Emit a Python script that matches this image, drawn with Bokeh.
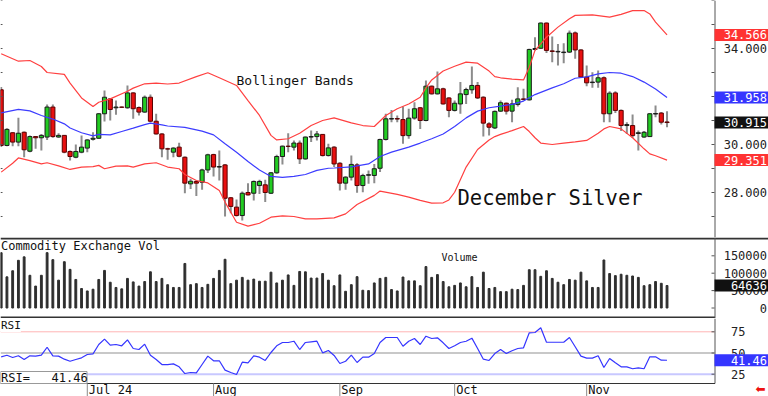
from bokeh.plotting import figure
from bokeh.layouts import column
from bokeh.models import Range1d, Label, ColumnDataSource
from bokeh.embed import file_html
from bokeh.resources import INLINE
from bokeh.core.properties import value

# ---------------- data ----------------
opens = [32.28, 29.96, 30.49, 30.10, 30.51, 29.72, 30.33, 30.28, 30.31, 31.56,
         30.31, 30.38, 29.71, 29.47, 29.68, 29.85, 30.22, 30.26, 31.28, 31.90,
         31.53, 31.56, 31.53, 32.15, 31.54, 31.35, 31.97, 30.97, 30.44, 29.82,
         29.68, 29.89, 29.47, 28.36, 28.46, 28.43, 28.94, 29.58, 29.06, 29.15,
         27.78, 27.39, 27.04, 28.00, 27.97, 28.29, 28.32, 27.97, 28.82, 29.50,
         29.93, 29.89, 30.06, 29.40, 30.31, 30.33, 30.42, 29.54, 29.89, 29.22,
         28.39, 28.64, 29.15, 28.29, 28.72, 28.71, 29.01, 30.21, 31.06, 31.08,
         31.04, 30.37, 31.10, 31.53, 31.00, 32.43, 32.11, 32.32, 31.94, 31.42,
         31.69, 32.08, 32.28, 32.46, 31.97, 30.86, 30.69, 31.39, 31.72, 31.39,
         31.67, 31.90, 31.86, 33.96, 34.01, 35.06, 33.90, 33.86, 33.83, 33.85,
         34.65, 33.94, 32.81, 32.58, 32.60, 32.78, 31.28, 32.15, 31.42, 30.79,
         30.79, 30.46, 30.31, 30.33, 31.27, 31.31, 30.94]
highs = [32.40, 30.68, 30.51, 31.11, 30.54, 30.37, 30.35, 30.44, 31.67, 31.67,
         30.47, 30.40, 29.75, 30.00, 30.37, 30.22, 30.51, 31.31, 32.25, 31.94,
         31.83, 31.58, 32.46, 32.18, 31.58, 32.04, 32.08, 31.28, 30.47, 29.86,
         29.89, 30.07, 29.50, 28.57, 28.50, 28.99, 29.61, 29.61, 29.75, 29.19,
         27.81, 27.71, 28.04, 28.39, 28.50, 28.53, 28.53, 28.85, 29.57, 29.96,
         30.47, 30.17, 30.17, 30.33, 30.58, 30.56, 30.44, 30.03, 29.93, 29.26,
         28.68, 29.54, 29.22, 28.78, 28.92, 29.19, 30.24, 31.28, 31.44, 31.21,
         31.58, 31.49, 31.76, 31.56, 32.67, 32.46, 33.04, 32.36, 31.97, 31.83,
         32.60, 32.36, 33.25, 32.60, 32.01, 30.93, 31.42, 31.83, 31.75, 31.86,
         32.39, 32.32, 33.99, 34.47, 35.08, 35.08, 34.50, 34.19, 34.22, 34.75,
         34.71, 33.97, 33.29, 33.01, 33.08, 32.83, 32.22, 32.22, 31.46, 30.93,
         31.25, 30.58, 30.56, 31.31, 31.63, 31.35, 31.39]
lows = [29.90, 29.93, 29.93, 29.93, 29.47, 29.68, 29.82, 29.75, 30.19, 30.28,
        30.28, 29.64, 29.33, 29.43, 29.64, 29.68, 30.17, 30.24, 30.96, 31.00,
        31.24, 31.53, 31.49, 31.07, 31.21, 31.32, 30.93, 30.42, 29.47, 29.36,
        29.47, 29.47, 27.97, 28.15, 27.85, 28.11, 28.81, 28.67, 28.50, 27.00,
        27.14, 27.00, 26.83, 27.88, 27.67, 27.94, 27.60, 27.94, 28.78, 29.17,
        29.68, 29.75, 29.19, 29.36, 30.10, 30.17, 29.50, 29.50, 29.06, 28.08,
        28.11, 28.50, 27.99, 28.01, 28.36, 28.39, 28.85, 30.17, 30.93, 30.93,
        30.03, 30.24, 31.03, 30.65, 30.97, 32.08, 32.08, 31.67, 31.14, 31.38,
        31.28, 31.69, 32.11, 31.90, 30.33, 30.37, 30.65, 31.35, 31.25, 30.93,
        31.58, 31.83, 31.83, 33.92, 33.99, 33.81, 33.43, 33.29, 33.39, 33.81,
        33.57, 32.78, 32.43, 32.36, 32.36, 30.93, 30.93, 31.31, 30.56, 30.44,
        30.28, 29.75, 30.28, 30.31, 31.14, 30.83, 30.72]
closes = [29.96, 30.63, 30.10, 30.47, 29.78, 30.33, 30.28, 30.38, 31.56, 30.33,
          30.38, 29.68, 29.50, 29.71, 29.89, 30.19, 30.26, 31.28, 31.97, 31.46,
          31.56, 31.55, 32.15, 31.49, 31.35, 31.97, 30.97, 30.44, 29.82, 29.81,
          29.85, 29.51, 28.39, 28.47, 28.39, 28.94, 29.57, 29.06, 29.08, 27.76,
          27.42, 27.04, 27.97, 27.90, 28.46, 28.46, 28.00, 28.82, 29.50, 29.93,
          29.92, 30.06, 29.40, 30.31, 30.33, 30.44, 29.54, 29.86, 29.19, 28.39,
          28.64, 29.17, 28.29, 28.71, 28.74, 28.99, 30.21, 31.07, 31.08, 31.06,
          30.37, 31.10, 31.49, 31.00, 32.43, 32.11, 32.32, 31.69, 31.42, 31.72,
          32.11, 32.29, 32.46, 31.94, 30.89, 30.72, 31.38, 31.74, 31.39, 31.69,
          31.90, 31.88, 33.96, 34.00, 35.06, 33.92, 33.88, 33.88, 33.85, 34.64,
          33.94, 32.81, 32.57, 32.60, 32.78, 31.28, 32.14, 31.42, 30.79, 30.83,
          30.37, 30.49, 30.51, 31.28, 31.29, 30.93, 30.915]
volumes = [159000, 89500, 107000, 137000, 147000, 94000, 63000, 94000, 159000, 139000,
           80000, 133000, 111000, 82000, 56000, 49000, 54000, 82000, 108000, 74000,
           59000, 55000, 85000, 75000, 63000, 76000, 104000, 76000, 85000, 67000,
           59000, 59000, 128000, 67000, 70000, 59000, 68000, 85000, 108000, 140000,
           70000, 80000, 88000, 80000, 83000, 77000, 77000, 103000, 72000, 80000,
           95000, 65000, 105000, 104000, 86000, 86000, 99000, 80000, 64000, 95000,
           48000, 67000, 90000, 51000, 50000, 72000, 85000, 88000, 53000, 49000,
           89000, 78000, 78000, 64000, 119000, 88000, 96000, 76000, 61000, 65000,
           72000, 61000, 90000, 59000, 103000, 56000, 59000, 47000, 47000, 54000,
           53000, 65000, 110000, 110000, 91000, 107000, 85000, 74000, 67000, 82000,
           80000, 103000, 78000, 59000, 59000, 138000, 99000, 93000, 97000, 94000,
           92000, 88000, 64000, 67000, 76000, 71000, 64636]
rsi_values = [45.5, 47.4, 44.7, 46.7, 42.3, 46.7, 46.3, 47.4, 56.8, 46.7,
              46.3, 42.7, 40.3, 42.3, 44.3, 48.2, 49.0, 60.0, 66.3, 59.2,
              60.0, 58.5, 65.5, 55.3, 54.1, 60.4, 47.4, 42.3, 36.4, 36.4,
              37.2, 33.7, 25.8, 27.0, 26.6, 36.4, 46.3, 40.8, 40.8, 29.8,
              27.0, 24.6, 39.2, 38.4, 46.7, 45.1, 41.2, 50.6, 58.5, 62.4,
              62.4, 63.9, 54.1, 62.4, 63.2, 63.9, 50.2, 52.9, 47.1, 37.6,
              40.3, 47.4, 38.8, 45.1, 45.1, 49.4, 62.4, 68.3, 68.3, 68.3,
              58.0, 63.9, 67.1, 60.0, 69.8, 67.1, 67.9, 62.0, 55.3, 58.5,
              62.4, 63.9, 67.5, 55.3, 42.7, 41.2, 49.4, 54.1, 49.4, 52.6,
              55.3, 56.1, 73.8, 74.2, 79.7, 62.7, 62.7, 62.7, 62.7, 68.3,
              57.3, 46.3, 43.9, 43.9, 46.7, 32.9, 43.5, 38.4, 33.7, 33.7,
              31.4, 32.5, 31.4, 45.5, 45.5, 41.5, 41.46]

upper_x = [0, 3, 5, 7, 8, 11, 12, 14, 16, 17, 19, 22, 23, 25, 27, 29, 31, 34, 36, 38,
           41, 43, 45, 47, 48, 50, 52, 54, 56, 58, 61, 63, 65, 67, 69, 71, 73, 74, 75, 77,
           79, 81, 83, 85, 86, 87, 89, 91, 92, 93, 94, 95, 97, 99, 100, 103, 106, 108, 110,
           112, 113, 114, 116]
upper_y = [33.78, 33.47, 33.50, 33.25, 33.00, 32.92, 32.56, 31.94, 31.58, 31.76, 31.90,
           32.22, 32.35, 32.53, 32.56, 32.52, 32.56, 32.83, 32.99, 32.78, 32.46, 31.83,
           31.21, 30.38, 30.19, 30.24, 30.47, 30.79, 31.00, 31.11, 30.90, 30.79, 30.75,
           31.21, 31.49, 31.69, 31.97, 32.36, 32.69, 33.06, 33.26, 33.43, 33.39, 33.06,
           32.83, 32.78, 32.72, 32.69, 33.22, 33.92, 34.19, 34.47, 34.89, 35.24, 35.38,
           35.40, 35.31, 35.42, 35.58, 35.58, 35.44, 35.10, 34.566]
mid_x = [0, 3, 5, 7, 9, 11, 12, 14, 16, 17, 19, 21, 23, 25, 26, 28, 29, 32, 35, 37, 39,
         41, 43, 45, 47, 49, 51, 53, 55, 57, 58, 61, 64, 66, 68, 71, 73, 75, 77, 79, 81,
         83, 85, 87, 89, 91, 93, 96, 98, 100, 102, 104, 106, 108, 110, 112, 114, 116]
mid_y = [31.32, 31.46, 31.40, 31.21, 31.06, 30.86, 30.69, 30.49, 30.36, 30.42, 30.40,
         30.54, 30.68, 30.83, 30.89, 30.82, 30.77, 30.71, 30.56, 30.40, 30.03, 29.68,
         29.29, 28.94, 28.67, 28.63, 28.67, 28.75, 28.92, 29.01, 29.02, 29.07, 29.19,
         29.50, 29.68, 29.89, 30.06, 30.24, 30.44, 30.75, 31.11, 31.39, 31.53, 31.60,
         31.67, 31.81, 32.08, 32.36, 32.53, 32.76, 32.82, 32.94, 33.00, 32.97, 32.83,
         32.60, 32.31, 31.958]
lower_x = [0, 2, 3, 5, 7, 8, 10, 12, 14, 16, 17, 18, 20, 22, 23, 25, 27, 29, 31, 32, 34,
           36, 38, 39, 41, 43, 45, 47, 49, 51, 53, 55, 58, 60, 62, 65, 66, 69, 71, 73, 75,
           77, 78, 79, 81, 83, 85, 86, 87, 89, 91, 92, 93, 94, 96, 98, 100, 102, 104, 105,
           106, 108, 110, 112, 113, 114, 116]
lower_y = [28.85, 29.22, 29.44, 29.33, 29.19, 29.24, 29.11, 28.96, 29.06, 29.08, 29.13,
           28.99, 29.10, 29.11, 29.06, 29.19, 29.24, 29.06, 28.99, 28.75, 28.50, 28.40,
           28.08, 27.60, 26.76, 26.60, 26.72, 26.97, 27.03, 27.00, 26.90, 26.90, 26.94,
           27.11, 27.50, 27.88, 28.06, 27.92, 27.81, 27.67, 27.56, 27.57, 27.69, 28.01,
           29.06, 29.79, 30.19, 30.33, 30.42, 30.58, 30.75, 30.54, 30.28, 30.06, 30.00,
           30.06, 30.11, 30.17, 30.47, 30.65, 30.75, 30.65, 30.28, 29.82, 29.61, 29.53,
           29.351]

month_pos = [15, 37, 59, 79, 102]
month_labels = ["Jul 24", "Aug", "Sep", "Oct", "Nov"]
price_ticks = [28, 30, 32, 34]
price_tick_labels = ["28.000", "30.000", "32.000", "34.000"]
price_minor = [26, 27, 28, 29, 30, 31, 32, 33, 34, 35, 36]
volume_ticks = [0, 50000, 100000, 150000]
volume_tick_labels = ["0", "50000", "100000", "150000"]
rsi_ticks = [25, 50, 75]
rsi_tick_labels = ["25", "50", "75"]

price_marks = [34.566, 31.958, 30.915, 29.351]
price_mark_labels = ["34.566", "31.958", "30.915", "29.351"]
price_mark_colors = ["#ff3333", "#3535ff", "#111111", "#ff3333"]
last_volume = 64636
last_rsi = 41.46

# ---------------- layout helpers (pixel geometry of the frames) ----------------
MONO = "DejaVu Sans Mono"
W = 768
XS = -0.12
SC = (124.27 - XS) / 714.0          # data units per pixel along x
VPX = 2873.6                          # volume units per pixel


def xd(px):
    return XS + px * SC


def yP(px):          # price figure, frame top at page y=0
    return 36.0 - px / 24.0


def yV(px):          # volume figure
    return (307.5 - px) * VPX


def yR(px):          # rsi figure
    return 50.0 + (352.5 - px) / 0.848


x_range = Range1d(xd(0), xd(W))


def make_fig(h, yr):
    p = figure(width=W, height=h, x_range=x_range, y_range=yr,
               output_backend="svg", toolbar_location=None,
               x_axis_location=None, y_axis_location=None,
               min_border=0)
    for g in p.grid:
        g.visible = False
    p.outline_line_color = None
    p.background_fill_color = "white"
    p.border_fill_color = "white"
    return p


AX_COLOR = "#555555"
TXT = "#222222"


def axis_texts(p, ys, labels, right_px):
    p.text(x=[xd(right_px)] * len(ys), y=ys, text=labels,
           text_font=value(MONO), text_font_size="12px", text_color=TXT,
           text_align="right", text_baseline="middle")


def inner_ticks(p, ys, px0, px1):
    p.segment(x0=[xd(px0)] * len(ys), y0=ys, x1=[xd(px1)] * len(ys), y1=ys,
              line_color=AX_COLOR, line_width=1)


def value_boxes(p, ys, labels, colors, half_h):
    p.quad(left=xd(714), right=xd(768),
           top=[v + half_h for v in ys], bottom=[v - half_h for v in ys],
           fill_color=colors, line_color=None)
    p.text(x=[xd(766.5)] * len(ys), y=ys, text=labels,
           text_font=value(MONO), text_font_size="12px", text_color="white",
           text_align="right", text_baseline="middle")


# ---------------- price panel ----------------
p1 = make_fig(237, Range1d(yP(237), yP(0)))
idx = list(range(len(closes)))
GREEN, RED = "#22cc22", "#e81010"
src = ColumnDataSource(dict(
    x=idx, h=highs, l=lows,
    top=[max(o, c) for o, c in zip(opens, closes)],
    bottom=[min(o, c) for o, c in zip(opens, closes)],
    fill=[GREEN if c >= o else RED for o, c in zip(opens, closes)],
    edge=["#1a1a1a" if c >= o else "#5a0000" for o, c in zip(opens, closes)],
))
p1.segment(x0="x", y0="l", x1="x", y1="h", source=src,
           line_color="#8c8c8c", line_width=2)
p1.vbar(x="x", width=0.72, top="top", bottom="bottom", source=src,
        fill_color="fill", line_color="edge", line_width=1)
p1.line(upper_x, upper_y, line_color="#ff4040", line_width=1.2)
p1.line(lower_x, lower_y, line_color="#ff4040", line_width=1.2)
p1.line(mid_x, mid_y, line_color="#3c3cff", line_width=1.2)

# right price scale
p1.segment(x0=[xd(714.5)], y0=[yP(237)], x1=[xd(714.5)], y1=[yP(0)],
           line_color=AX_COLOR, line_width=1)
inner_ticks(p1, price_minor, 711, 714)
inner_ticks(p1, price_minor, 0, 2)
axis_texts(p1, price_ticks, price_tick_labels, 766.5)
value_boxes(p1, price_marks, price_mark_labels, price_mark_colors, 6 / 24.0)

p1.text(x=[xd(236)], y=[yP(80)], text=["Bollinger Bands"], text_font=value(MONO),
        text_font_size="13px", text_color="#111111", text_baseline="middle")
p1.text(x=[xd(457)], y=[yP(197)], text=["December Silver"], text_font=value(MONO),
        text_font_size="20.5px", text_color="#111111", text_baseline="middle")

# ---------------- volume panel ----------------
p2 = make_fig(81, Range1d(yV(318), yV(237)))
p2.vbar(x=idx, top=volumes, bottom=0, width=0.32, color="#2e2e2e")
p2.segment(x0=[xd(0)], y0=[yV(238)], x1=[xd(768)], y1=[yV(238)],
           line_color="#333333", line_width=2)
p2.segment(x0=[xd(0)], y0=[yV(317)], x1=[xd(714.5)], y1=[yV(317)],
           line_color="#333333", line_width=2)
p2.segment(x0=[xd(714.5)], y0=[yV(318)], x1=[xd(714.5)], y1=[yV(237)],
           line_color=AX_COLOR, line_width=1)
inner_ticks(p2, volume_ticks, 711, 714)
axis_texts(p2, volume_ticks, volume_tick_labels, 766.5)
value_boxes(p2, [last_volume], [str(last_volume)], ["#111111"], 6 * VPX)
p2.text(x=[xd(0.5)], y=[yV(245)], text=["Commodity Exchange Vol"], text_font=value(MONO),
        text_font_size="12px", text_color="#111111", text_baseline="middle")
p2.text(x=[xd(441)], y=[yV(256.5)], text=["Volume"], text_font=value(MONO),
        text_font_size="10px", text_color="#111111", text_baseline="middle")

# ---------------- RSI panel + date scale ----------------
p3 = make_fig(78, Range1d(yR(396), yR(318)))
for lvl, col, lw in [(75, "#ffb4b4", 1), (50, "#c8c8c8", 2), (25, "#c8c8ff", 2)]:
    p3.segment(x0=[xd(0)], y0=[lvl], x1=[xd(714)], y1=[lvl], line_color=col, line_width=lw)
p3.line(idx, rsi_values, line_color="#3535ff", line_width=1.2)
p3.segment(x0=[xd(714.5)], y0=[yR(383)], x1=[xd(714.5)], y1=[yR(318)],
           line_color=AX_COLOR, line_width=1)
p3.segment(x0=[xd(0)], y0=[yR(383)], x1=[xd(714.5)], y1=[yR(383)],
           line_color="#333333", line_width=1)
inner_ticks(p3, rsi_ticks, 711, 714)
axis_texts(p3, rsi_ticks, rsi_tick_labels, 745)
value_boxes(p3, [last_rsi], [f"{last_rsi:.2f}"], ["#3535ff"], 6 * 0.848 ** -1)

# month separators and labels
p3.segment(x0=month_pos, y0=[yR(383)] * len(month_pos), x1=month_pos,
           y1=[yR(396)] * len(month_pos), line_color="#8a8a8a", line_width=1)
p3.text(x=[m + 1.5 * SC for m in month_pos], y=[yR(389.5)] * len(month_pos),
        text=month_labels, text_font=value(MONO), text_font_size="12px",
        text_color="#111111", text_align="left", text_baseline="middle")

p3.add_layout(Label(x=xd(0.5), y=yR(325), text="RSI", text_font=MONO,
                    text_font_size="11px", text_color="#111111", text_baseline="middle",
                    background_fill_color="white"))
p3.quad(left=[xd(0)], right=[xd(86.5)], top=[yR(371)], bottom=[yR(383)],
        fill_color="white", line_color="#999999", line_width=1)
p3.text(x=[xd(0.5)], y=[yR(377)], text=["RSI=" + "\u00a0" * 3 + f"{last_rsi:.2f}"],
        text_font=value(MONO), text_font_size="12px", text_color="#111111",
        text_baseline="middle")
p3.text(x=[xd(760)], y=[yR(388.5)], text=["\u2b05"], text_font=value("DejaVu Sans"),
        text_font_size="12px", text_color="#ee1111", text_align="center",
        text_baseline="middle")

layout = column(p1, p2, p3, spacing=0)

html = file_html(layout, INLINE, "December Silver")
html = html.replace("</head>",
                    "<style>html,body{margin:0;padding:0;overflow:hidden;}</style></head>", 1)
with open("out.html", "w") as f:
    f.write(html)
